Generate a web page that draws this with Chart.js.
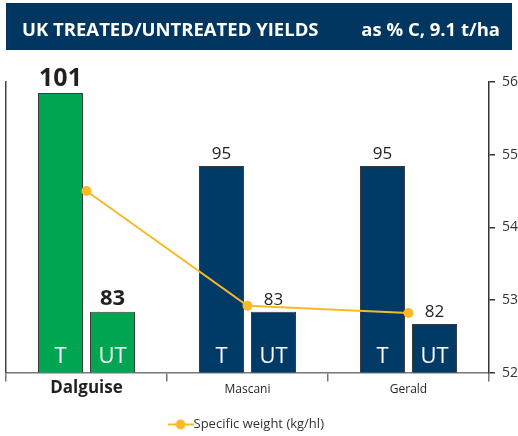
<!DOCTYPE html>
<html><head><meta charset="utf-8">
<script src="https://cdn.jsdelivr.net/npm/chart.js@4"></script>
<style>
html,body{margin:0;padding:0;background:#fff;}
#wrap{position:relative;width:518px;height:436px;overflow:hidden;font-family:"Open Sans",sans-serif;}
#hdr{position:absolute;left:6px;top:3px;width:506px;height:47px;background:#00365f;color:#fff;font-weight:bold;font-size:18.5px;}
#t1{position:absolute;left:16px;top:2px;line-height:47px;}
#t2{position:absolute;right:12px;top:2px;line-height:47px;}
canvas{position:absolute;left:0;top:0;}
</style></head><body>
<div id="wrap"><canvas id="c" width="518" height="436"></canvas><div id="hdr"><span id="t1">UK TREATED/UNTREATED YIELDS</span><span id="t2">as % C, 9.1 t/ha</span></div></div>
<script>
const varieties = ['Dalguise', 'Mascani', 'Gerald'];
const treated = [101, 95, 95];
const untreated = [83, 83, 82];
const specificWeight = [54.5, 52.92, 52.82];
const barLabels = ['T', 'UT'];
const weightMin = 52, weightMax = 56;
const yieldMin = 78, yieldMax = 101.9;

const GREEN = '#00a551', NAVY = '#003b68', GOLD = '#fbb829';
const barColors = varieties.map((v, i) => i === 0 ? GREEN : NAVY);

function legendIcon() {
  const c = document.createElement('canvas');
  c.width = 26; c.height = 12;
  const x = c.getContext('2d');
  x.strokeStyle = GOLD; x.lineWidth = 2;
  x.beginPath(); x.moveTo(0, 6); x.lineTo(26, 6); x.stroke();
  x.fillStyle = GOLD; x.beginPath(); x.arc(13, 6, 5, 0, Math.PI * 2); x.fill();
  return c;
}

const labelPlugin = {
  id: 'barText',
  afterLayout(chart) {
    if (chart.legend) { chart.legend.right -= 26; }
  },
  afterDatasetsDraw(chart) {
    const ctx = chart.ctx;
    [0, 1].forEach(di => {
      const meta = chart.getDatasetMeta(di);
      const ds = chart.data.datasets[di];
      meta.data.forEach((bar, i) => {
        ctx.save();
        ctx.textAlign = 'center';
        ctx.textBaseline = 'alphabetic';
        ctx.fillStyle = '#231f20';
        if (i === 0) ctx.font = 'bold ' + (di === 0 ? 25 : 22) + 'px "Open Sans"';
        else ctx.font = '17px "Open Sans"';
        ctx.fillText(String(ds.data[i]), bar.x, bar.y - 7);
        ctx.fillStyle = '#ffffff';
        ctx.font = '22px "Open Sans"';
        ctx.fillText(barLabels[di], bar.x, chart.chartArea.bottom - 10);
        ctx.restore();
      });
    });
  }
};

new Chart(document.getElementById('c'), {
  data: {
    labels: varieties,
    datasets: [
      { type: 'bar', label: 'T', data: treated, backgroundColor: barColors, borderColor: '#3a3a3a', borderWidth: 1, yAxisID: 'y', order: 1, categoryPercentage: 0.646, barPercentage: 0.865 },
      { type: 'bar', label: 'UT', data: untreated, backgroundColor: barColors, borderColor: '#3a3a3a', borderWidth: 1, yAxisID: 'y', order: 1, categoryPercentage: 0.646, barPercentage: 0.865 },
      { type: 'line', label: 'Specific weight (kg/hl)', data: specificWeight, borderColor: GOLD, backgroundColor: GOLD, borderWidth: 2, pointRadius: 5, pointBorderWidth: 0, pointStyle: 'circle', yAxisID: 'y1', order: 0, tension: 0 }
    ]
  },
  options: {
    responsive: false,
    animation: false,
    layout: { padding: { top: 82, left: 6, right: 0, bottom: -5 } },
    plugins: {
      tooltip: { enabled: false },
      legend: {
        position: 'bottom',
        labels: {
          filter: item => item.datasetIndex === 2,
          usePointStyle: true,
          pointStyle: legendIcon(),
          color: '#333',
          font: { family: '"Open Sans"', size: 13 },
          padding: 4
        }
      }
    },
    scales: {
      x: {
        offset: true,
        grid: { display: true, offset: true, drawOnChartArea: false, drawTicks: true, tickLength: 9, color: '#777', lineWidth: 1.5 },
        border: { display: true, color: '#777', width: 1.5 },
        ticks: {
          color: '#231f20',
          padding: -2,
          font: ctx => ctx.index === 0 ? { family: '"Open Sans"', size: 17, weight: 'bold', lineHeight: 1 } : { family: '"Open Sans"', size: 12, lineHeight: 1.7 }
        },
        afterFit: s => { s.height += 16; }
      },
      y: {
        min: yieldMin, max: yieldMax,
        position: 'left',
        ticks: { display: false },
        grid: { display: false, drawTicks: false },
        border: { display: true, color: '#444', width: 1.5 },
        afterFit: s => { s.width = 0; }
      },
      y1: {
        min: weightMin, max: weightMax,
        position: 'right',
        ticks: { stepSize: 1, color: '#333', padding: 7, font: { family: '"Open Sans"', size: 14 } },
        grid: { drawOnChartArea: false, drawTicks: true, tickLength: 6, color: '#333', lineWidth: 1.5 },
        border: { display: true, color: '#333', width: 1.5 },
        afterFit: s => { s.width = 29; }
      }
    }
  },
  plugins: [labelPlugin]
});
</script>
</body></html>
